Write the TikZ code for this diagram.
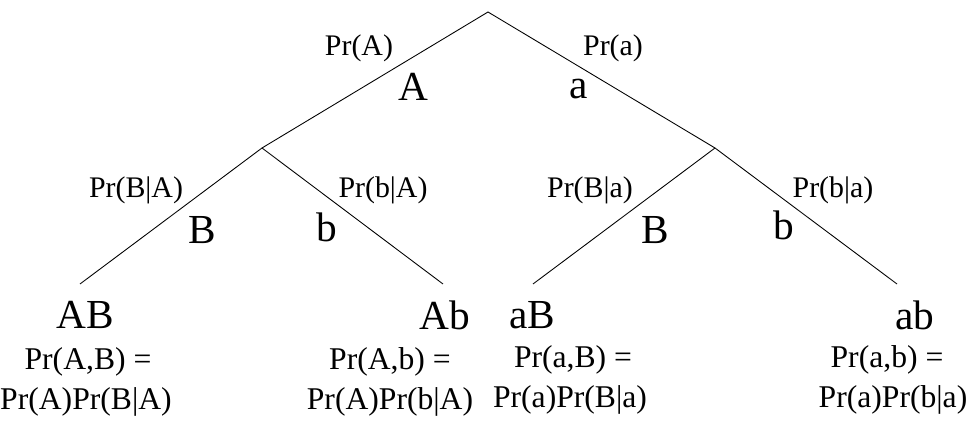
\documentclass[tikz,border=0pt]{standalone}
\usepackage{fontspec}
\setmainfont{Liberation Serif}

\tikzset{
  branch/.style={line width=0.5pt},
  problabel/.style={inner sep=0pt, font=\fontsize{17}{20}\selectfont},
  outcome/.style={inner sep=0pt, font=\fontsize{23.5}{27}\selectfont},
  joint/.style={inner sep=0pt, font=\fontsize{18}{21}\selectfont}
}

\begin{document}
\begin{tikzpicture}
    \useasboundingbox (0,0) rectangle (19.5,8.46);

    \coordinate (root) at (9.76,8.22);
    \coordinate (midA) at (5.24,5.5);
    \coordinate (mida) at (14.3,5.5);
    \coordinate (leafAB) at (1.6,2.78);
    \coordinate (leafAb) at (8.86,2.78);
    \coordinate (leafaB) at (10.66,2.78);
    \coordinate (leafab) at (17.94,2.78);

    \draw[branch] (midA) -- (root) -- (mida);
    \draw[branch] (leafAB) -- (midA) -- (leafAb);
    \draw[branch] (leafaB) -- (mida) -- (leafab);

    \node[problabel] (prA) at (7.18,7.5) {Pr(A)};
    \node[outcome] (lblA) at (8.26,6.72) {A};
    \node[problabel] (pra) at (12.26,7.5) {Pr(a)};
    \node[outcome] (lbla) at (11.58,6.68) {a};

    \node[problabel] (prBA) at (2.72,4.66) {Pr(B|A)};
    \node[outcome] (lblBA) at (4.04,3.86) {B};
    \node[problabel] (prbA) at (7.66,4.66) {Pr(b|A)};
    \node[outcome] (lblbA) at (6.54,3.92) {b};

    \node[problabel] (prBa) at (11.8,4.66) {Pr(B|a)};
    \node[outcome] (lblBa) at (13.1,3.86) {B};
    \node[problabel] (prba) at (16.66,4.66) {Pr(b|a)};
    \node[outcome] (lblba) at (15.68,3.96) {b};

    \node[outcome] (AB) at (1.7,2.16) {AB};
    \node[outcome] (Ab) at (8.9,2.16) {Ab};
    \node[outcome] (aB) at (10.64,2.16) {aB};
    \node[outcome] (ab) at (18.3,2.16) {ab};

    \node[joint] (jointAB) at (1.76,1.22) {Pr(A,B) =};
    \node[joint] (prodAB) at (1.72,0.42) {Pr(A)Pr(B|A)};
    \node[joint] (jointAb) at (7.8,1.22) {Pr(A,b) =};
    \node[joint] (prodAb) at (7.8,0.42) {Pr(A)Pr(b|A)};
    \node[joint] (jointaB) at (11.46,1.26) {Pr(a,B) =};
    \node[joint] (prodaB) at (11.4,0.46) {Pr(a)Pr(B|a)};
    \node[joint] (jointab) at (17.74,1.26) {Pr(a,b) =};
    \node[joint] (prodab) at (17.86,0.46) {Pr(a)Pr(b|a)};
\end{tikzpicture}
\end{document}
